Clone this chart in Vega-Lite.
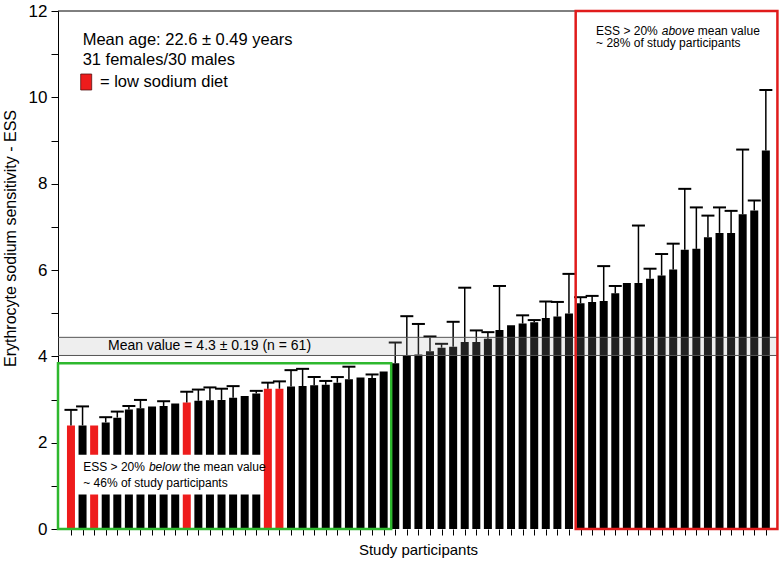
{
  "$schema": "https://vega.github.io/schema/vega-lite/v6.json",
  "width": 720,
  "height": 518,
  "autosize": "none",
  "padding": {"left": 58, "top": 11, "right": 4, "bottom": 38},
  "background": "white",
  "config": {
    "view": {"stroke": null},
    "font": "Liberation Sans",
    "axis": {"grid": false},
    "scale": {"continuousPadding": 0}
  },
  "datasets": {
    "participants": [
      {"i": 0, "v": 2.40, "hi": 2.76, "diet": "low"},
      {"i": 1, "v": 2.40, "hi": 2.84, "diet": "normal"},
      {"i": 2, "v": 2.40, "hi": null, "diet": "low"},
      {"i": 3, "v": 2.47, "hi": 2.59, "diet": "normal"},
      {"i": 4, "v": 2.58, "hi": 2.72, "diet": "normal"},
      {"i": 5, "v": 2.77, "hi": 2.85, "diet": "normal"},
      {"i": 6, "v": 2.80, "hi": 2.99, "diet": "normal"},
      {"i": 7, "v": 2.84, "hi": null, "diet": "normal"},
      {"i": 8, "v": 2.85, "hi": 2.96, "diet": "normal"},
      {"i": 9, "v": 2.91, "hi": null, "diet": "normal"},
      {"i": 10, "v": 2.93, "hi": 3.18, "diet": "low"},
      {"i": 11, "v": 2.97, "hi": 3.23, "diet": "normal"},
      {"i": 12, "v": 2.98, "hi": 3.28, "diet": "normal"},
      {"i": 13, "v": 2.99, "hi": 3.25, "diet": "normal"},
      {"i": 14, "v": 3.04, "hi": 3.31, "diet": "normal"},
      {"i": 15, "v": 3.08, "hi": null, "diet": "normal"},
      {"i": 16, "v": 3.14, "hi": 3.20, "diet": "normal"},
      {"i": 17, "v": 3.25, "hi": 3.39, "diet": "low"},
      {"i": 18, "v": 3.25, "hi": 3.42, "diet": "low"},
      {"i": 19, "v": 3.30, "hi": 3.68, "diet": "normal"},
      {"i": 20, "v": 3.31, "hi": 3.71, "diet": "normal"},
      {"i": 21, "v": 3.33, "hi": 3.52, "diet": "normal"},
      {"i": 22, "v": 3.34, "hi": 3.43, "diet": "normal"},
      {"i": 23, "v": 3.39, "hi": 3.52, "diet": "normal"},
      {"i": 24, "v": 3.47, "hi": 3.76, "diet": "normal"},
      {"i": 25, "v": 3.51, "hi": null, "diet": "normal"},
      {"i": 26, "v": 3.50, "hi": 3.58, "diet": "normal"},
      {"i": 27, "v": 3.65, "hi": null, "diet": "normal"},
      {"i": 28, "v": 3.84, "hi": 4.32, "diet": "normal"},
      {"i": 29, "v": 4.02, "hi": 4.93, "diet": "normal"},
      {"i": 30, "v": 4.04, "hi": 4.75, "diet": "normal"},
      {"i": 31, "v": 4.12, "hi": 4.46, "diet": "normal"},
      {"i": 32, "v": 4.20, "hi": 4.29, "diet": "normal"},
      {"i": 33, "v": 4.22, "hi": 4.80, "diet": "normal"},
      {"i": 34, "v": 4.33, "hi": 5.59, "diet": "normal"},
      {"i": 35, "v": 4.33, "hi": 4.60, "diet": "normal"},
      {"i": 36, "v": 4.41, "hi": 4.56, "diet": "normal"},
      {"i": 37, "v": 4.61, "hi": 5.63, "diet": "normal"},
      {"i": 38, "v": 4.72, "hi": null, "diet": "normal"},
      {"i": 39, "v": 4.76, "hi": 4.95, "diet": "normal"},
      {"i": 40, "v": 4.79, "hi": 4.84, "diet": "normal"},
      {"i": 41, "v": 4.89, "hi": 5.27, "diet": "normal"},
      {"i": 42, "v": 4.92, "hi": 5.26, "diet": "normal"},
      {"i": 43, "v": 4.99, "hi": 5.91, "diet": "normal"},
      {"i": 44, "v": 5.23, "hi": 5.37, "diet": "normal"},
      {"i": 45, "v": 5.26, "hi": 5.40, "diet": "normal"},
      {"i": 46, "v": 5.28, "hi": 6.09, "diet": "normal"},
      {"i": 47, "v": 5.46, "hi": 5.63, "diet": "normal"},
      {"i": 48, "v": 5.70, "hi": null, "diet": "normal"},
      {"i": 49, "v": 5.70, "hi": 7.03, "diet": "normal"},
      {"i": 50, "v": 5.80, "hi": 6.03, "diet": "normal"},
      {"i": 51, "v": 5.87, "hi": 6.37, "diet": "normal"},
      {"i": 52, "v": 6.01, "hi": 6.61, "diet": "normal"},
      {"i": 53, "v": 6.47, "hi": 7.88, "diet": "normal"},
      {"i": 54, "v": 6.49, "hi": 7.45, "diet": "normal"},
      {"i": 55, "v": 6.76, "hi": 7.26, "diet": "normal"},
      {"i": 56, "v": 6.86, "hi": 7.45, "diet": "normal"},
      {"i": 57, "v": 6.86, "hi": 7.37, "diet": "normal"},
      {"i": 58, "v": 7.29, "hi": 8.79, "diet": "normal"},
      {"i": 59, "v": 7.38, "hi": 7.61, "diet": "normal"},
      {"i": 60, "v": 8.77, "hi": 10.17, "diet": "normal"}
    ],
    "one": [{"k": 1}]
  },
  "layer": [
    {
      "data": {"name": "participants"},
      "mark": {"type": "bar", "width": 8},
      "encoding": {
        "x": {
          "field": "i", "type": "quantitative",
          "scale": {"domain": [-1.12, 61.05], "nice": false, "zero": false, "padding": 0},
          "axis": {
            "values": [0,1,2,3,4,5,6,7,8,9,10,11,12,13,14,15,16,17,18,19,20,21,22,23,24,25,26,27,28,29,30,31,32,33,34,35,36,37,38,39,40,41,42,43,44,45,46,47,48,49,50,51,52,53,54,55,56,57,58,59,60],
            "tickCount": 100,
            "labels": false, "domain": false, "grid": false, "labelOverlap": false,
            "tickSize": 6, "tickColor": "black", "tickWidth": 1,
            "title": "Study participants", "titleFontSize": 15, "titleFontWeight": "normal",
            "titleColor": "black", "titlePadding": 7, "titleFont": "Liberation Sans"
          }
        },
        "y": {
          "field": "v", "type": "quantitative",
          "scale": {"domain": [0, 12], "nice": false, "padding": 0},
          "axis": {
            "values": [0,1,2,3,4,5,6,7,8,9,10,11,12],
            "tickCount": 20,
            "format": "d",
            "labelExpr": "datum.value % 2 == 0 ? datum.label : ''",
            "grid": false, "domainColor": "black", "domainWidth": 1, "labelOverlap": false,
            "tickColor": "black", "tickSize": 7, "tickWidth": 1,
            "labelFontSize": 17, "labelColor": "black", "labelPadding": 4, "labelFont": "Liberation Sans",
            "title": "Erythrocyte sodium sensitivity - ESS", "titleFontSize": 16, "titleFontWeight": "normal",
            "titleColor": "black", "titleFont": "Liberation Sans",
            "titleX": -48, "titleY": 227, "titleBaseline": "middle", "titleAngle": -90
          }
        },
        "color": {
          "field": "diet", "type": "nominal",
          "scale": {"domain": ["low", "normal"], "range": ["#ee1c1c", "#000000"]},
          "legend": null
        }
      }
    },
    {
      "data": {"name": "participants"},
      "transform": [{"filter": "isValid(datum.hi)"}],
      "mark": {"type": "rule", "color": "black", "strokeWidth": 1.5},
      "encoding": {
        "x": {"field": "i", "type": "quantitative"},
        "y": {"field": "v", "type": "quantitative"},
        "y2": {"field": "hi"}
      }
    },
    {
      "data": {"name": "participants"},
      "transform": [{"filter": "isValid(datum.hi)"}],
      "mark": {"type": "tick", "orient": "horizontal", "color": "black", "size": 13, "thickness": 2, "opacity": 1},
      "encoding": {
        "x": {"field": "i", "type": "quantitative"},
        "y": {"field": "hi", "type": "quantitative"}
      }
    },
    {
      "data": {"name": "one"},
      "mark": {"type": "rect", "fill": "#aaaaaa", "opacity": 0.2},
      "encoding": {
        "x": {"datum": -1.12, "type": "quantitative"},
        "x2": {"datum": 61.05},
        "y": {"datum": 4.02, "type": "quantitative"},
        "y2": {"datum": 4.44}
      }
    },
    {
      "data": {"name": "one"},
      "mark": {"type": "rule", "color": "#555555", "strokeWidth": 1},
      "encoding": {"y": {"datum": 4.02, "type": "quantitative"}}
    },
    {
      "data": {"name": "one"},
      "mark": {"type": "rule", "color": "#555555", "strokeWidth": 1},
      "encoding": {"y": {"datum": 4.44, "type": "quantitative"}}
    },
    {
      "data": {"name": "one"},
      "mark": {"type": "rule", "color": "black", "strokeWidth": 1},
      "encoding": {"y": {"datum": 12, "type": "quantitative"}}
    },
    {
      "data": {"name": "one"},
      "mark": {"type": "rect", "fill": "white"},
      "encoding": {
        "x": {"datum": 0.38, "type": "quantitative"},
        "x2": {"datum": 16.6},
        "y": {"datum": 0.8, "type": "quantitative"},
        "y2": {"datum": 1.72}
      }
    },
    {
      "data": {"name": "one"},
      "mark": {"type": "rect", "fill": "transparent", "stroke": "#2eb82e", "strokeWidth": 2.5},
      "encoding": {
        "x": {"datum": -1.12, "type": "quantitative"},
        "x2": {"datum": 27.65},
        "y": {"datum": 0, "type": "quantitative"},
        "y2": {"datum": 3.84}
      }
    },
    {
      "data": {"name": "one"},
      "mark": {"type": "rect", "fill": "transparent", "stroke": "#e01b1b", "strokeWidth": 2.5},
      "encoding": {
        "x": {"datum": 43.58, "type": "quantitative"},
        "x2": {"datum": 61.0},
        "y": {"datum": 0, "type": "quantitative"},
        "y2": {"datum": 12}
      }
    },
    {
      "data": {"name": "one"},
      "mark": {"type": "rect", "fill": "#ee1c1c", "stroke": "#551111", "strokeWidth": 0.8},
      "encoding": {
        "x": {"datum": 0.84, "type": "quantitative"},
        "x2": {"datum": 1.79},
        "y": {"datum": 10.17, "type": "quantitative"},
        "y2": {"datum": 10.54}
      }
    },
    {
      "data": {"name": "one"},
      "mark": {"type": "text", "align": "left", "baseline": "middle", "fontSize": 16.5},
      "encoding": {
        "x": {"datum": 1.01, "type": "quantitative"},
        "y": {"datum": 11.33, "type": "quantitative"},
        "text": {"value": "Mean age: 22.6 ± 0.49 years"}
      }
    },
    {
      "data": {"name": "one"},
      "mark": {"type": "text", "align": "left", "baseline": "middle", "fontSize": 16.5},
      "encoding": {
        "x": {"datum": 1.01, "type": "quantitative"},
        "y": {"datum": 10.86, "type": "quantitative"},
        "text": {"value": "31 females/30 males"}
      }
    },
    {
      "data": {"name": "one"},
      "mark": {"type": "text", "align": "left", "baseline": "middle", "fontSize": 16.5},
      "encoding": {
        "x": {"datum": 2.5, "type": "quantitative"},
        "y": {"datum": 10.36, "type": "quantitative"},
        "text": {"value": "= low sodium diet"}
      }
    },
    {
      "data": {"name": "one"},
      "mark": {"type": "text", "align": "left", "baseline": "middle", "fontSize": 14},
      "encoding": {
        "x": {"datum": 3.2, "type": "quantitative"},
        "y": {"datum": 4.23, "type": "quantitative"},
        "text": {"value": "Mean value = 4.3 ± 0.19 (n = 61)"}
      }
    },
    {
      "data": {"name": "one"},
      "mark": {"type": "text", "align": "left", "baseline": "middle", "fontSize": 12},
      "encoding": {
        "x": {"datum": 45.34, "type": "quantitative"},
        "y": {"datum": 11.54, "type": "quantitative"},
        "text": {"value": "ESS > 20%"}
      }
    },
    {
      "data": {"name": "one"},
      "mark": {"type": "text", "align": "left", "baseline": "middle", "fontSize": 12, "fontStyle": "italic", "dx": 65.7},
      "encoding": {
        "x": {"datum": 45.34, "type": "quantitative"},
        "y": {"datum": 11.54, "type": "quantitative"},
        "text": {"value": "above"}
      }
    },
    {
      "data": {"name": "one"},
      "mark": {"type": "text", "align": "left", "baseline": "middle", "fontSize": 12, "dx": 101.7},
      "encoding": {
        "x": {"datum": 45.34, "type": "quantitative"},
        "y": {"datum": 11.54, "type": "quantitative"},
        "text": {"value": "mean value"}
      }
    },
    {
      "data": {"name": "one"},
      "mark": {"type": "text", "align": "left", "baseline": "middle", "fontSize": 12},
      "encoding": {
        "x": {"datum": 45.34, "type": "quantitative"},
        "y": {"datum": 11.25, "type": "quantitative"},
        "text": {"value": "~ 28% of study participants"}
      }
    },
    {
      "data": {"name": "one"},
      "mark": {"type": "text", "align": "left", "baseline": "middle", "fontSize": 12},
      "encoding": {
        "x": {"datum": 1.06, "type": "quantitative"},
        "y": {"datum": 1.43, "type": "quantitative"},
        "text": {"value": "ESS > 20%"}
      }
    },
    {
      "data": {"name": "one"},
      "mark": {"type": "text", "align": "left", "baseline": "middle", "fontSize": 12, "fontStyle": "italic", "dx": 65.7},
      "encoding": {
        "x": {"datum": 1.06, "type": "quantitative"},
        "y": {"datum": 1.43, "type": "quantitative"},
        "text": {"value": "below"}
      }
    },
    {
      "data": {"name": "one"},
      "mark": {"type": "text", "align": "left", "baseline": "middle", "fontSize": 12, "dx": 100.3},
      "encoding": {
        "x": {"datum": 1.06, "type": "quantitative"},
        "y": {"datum": 1.43, "type": "quantitative"},
        "text": {"value": "the mean value"}
      }
    },
    {
      "data": {"name": "one"},
      "mark": {"type": "text", "align": "left", "baseline": "middle", "fontSize": 12},
      "encoding": {
        "x": {"datum": 1.06, "type": "quantitative"},
        "y": {"datum": 1.07, "type": "quantitative"},
        "text": {"value": "~ 46% of study participants"}
      }
    }
  ]
}
